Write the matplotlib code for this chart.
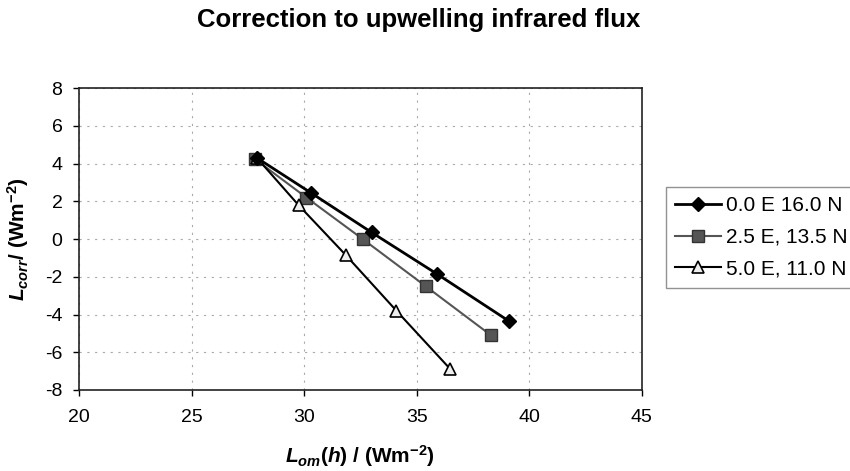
import matplotlib
matplotlib.use('Agg')
import matplotlib.pyplot as plt

plt.rcParams.update({
    'font.family': 'Liberation Sans',
    'axes.unicode_minus': False,
    'mathtext.fontset': 'custom',
    'mathtext.rm': 'Liberation Sans:bold',
    'mathtext.it': 'Liberation Sans:bold:italic',
    'mathtext.bf': 'Liberation Sans:bold',
})

# Data
labels = ['0.0 E 16.0 N', '2.5 E, 13.5 N', '5.0 E, 11.0 N']
x_s1 = [27.9, 30.3, 33.0, 35.9, 39.1]
y_s1 = [4.3, 2.45, 0.35, -1.85, -4.35]
x_s2 = [27.8, 30.1, 32.6, 35.4, 38.3]
y_s2 = [4.25, 2.2, 0.0, -2.5, -5.1]
x_s3 = [27.9, 29.75, 31.85, 34.1, 36.5]
y_s3 = [4.3, 1.8, -0.85, -3.8, -6.9]

xticks = [20, 25, 30, 35, 40, 45]
yticks = [-8, -6, -4, -2, 0, 2, 4, 6, 8]

fig = plt.figure(figsize=(8.5, 4.71), dpi=100)
ax = fig.add_axes([0.093, 0.172, 0.662, 0.641])

ax.plot(x_s1, y_s1, color='black', lw=2.0, marker='D', ms=7,
        mfc='black', mec='black', label=labels[0], zorder=4)
ax.plot(x_s2, y_s2, color='#555555', lw=1.5, marker='s', ms=8,
        mfc='#555555', mec='#333333', label=labels[1], zorder=3)
ax.plot(x_s3, y_s3, color='black', lw=1.5, marker='^', ms=8,
        mfc='#eeeeee', mec='black', mew=1.2, label=labels[2], zorder=3)

ax.set_xlim(20, 45)
ax.set_ylim(-8, 8)
ax.set_xticks(xticks)
ax.set_yticks(yticks)
ax.tick_params(labelsize=14, direction='out', length=4, width=1)
ax.tick_params(axis='x', pad=10)
ax.tick_params(axis='y', pad=8)
ax.grid(True, color='#aaaaaa', ls=(0, (2, 5)), lw=0.8)
for s in ax.spines.values():
    s.set_color('#222222')
    s.set_linewidth(1.2)

ax.set_xlabel(r'$L_{om}(h)$ / (Wm$^{-2}$)', fontsize=15, fontweight='bold',
              labelpad=12)
ax.set_ylabel(r'$L_{corr}$/ (Wm$^{-2}$)', fontsize=15, fontweight='bold',
              labelpad=10)

fig.text(0.493, 0.957, 'Correction to upwelling infrared flux', fontsize=18.5,
         fontweight='bold', ha='center', va='center')

leg = ax.legend(loc='upper left', bbox_to_anchor=(0.7835, 0.603),
                bbox_transform=fig.transFigure, fontsize=15, frameon=True,
                fancybox=False, edgecolor='#777777', borderaxespad=0,
                handlelength=2.2, handletextpad=0.25, labelspacing=0.6,
                borderpad=0.45)
leg.get_frame().set_linewidth(1.0)

plt.savefig('out.png', dpi=100)
